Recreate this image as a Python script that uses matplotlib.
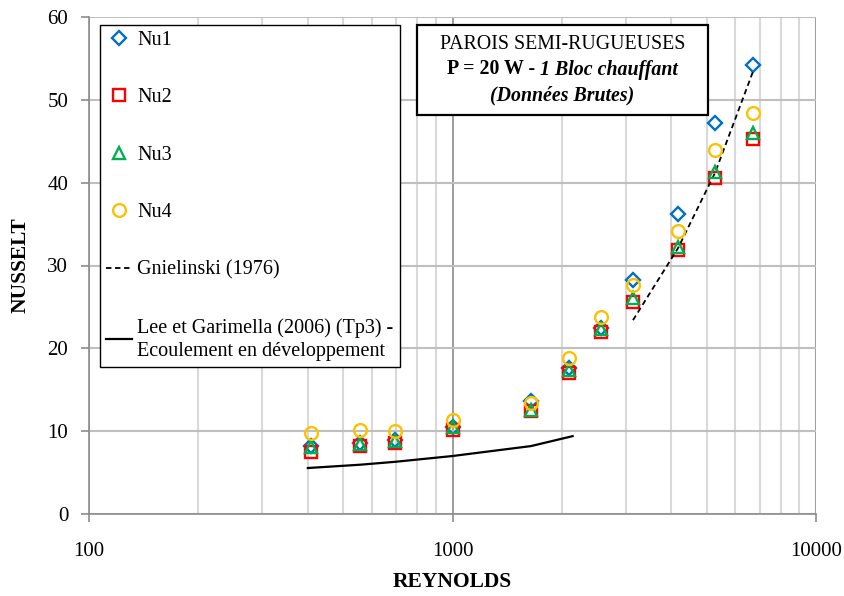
import matplotlib
matplotlib.use("Agg")
import matplotlib.pyplot as plt
from matplotlib.ticker import LogLocator, NullFormatter, FixedLocator
from matplotlib.patches import Rectangle
from matplotlib.offsetbox import TextArea, HPacker, VPacker, AnchoredOffsetbox

plt.rcParams['font.family'] = ['Liberation Serif', 'DejaVu Serif']

# Reynolds numbers of the measurement points
reynolds = [408, 557, 695, 1000, 1644, 2092, 2563, 3137, 4173, 5277, 6708]

# Nusselt numbers for the four measurement stations
nu1 = [8.2, 8.6, 8.9, 10.5, 13.6, 17.6, 22.5, 28.3, 36.2, 47.2, 54.2]
nu2 = [7.5, 8.2, 8.6, 10.2, 12.4, 17.0, 22.0, 25.6, 31.9, 40.6, 45.3]
nu3 = [8.1, 8.5, 8.85, 10.5, 12.6, 17.4, 22.3, 26.1, 32.2, 41.3, 46.0]
nu4 = [9.8, 10.1, 10.0, 11.4, 13.4, 18.8, 23.8, 27.7, 34.2, 44.0, 48.4]

# Gnielinski (1976) correlation, turbulent range
re_gni = [3137, 4173, 5277, 6708]
nu_gni = [23.4, 32.1, 41.2, 53.4]

# Lee & Garimella (2006), developing laminar flow
re_lee = [400, 557, 695, 1000, 1644, 2140]
nu_lee = [5.55, 5.95, 6.3, 7.0, 8.2, 9.4]

fig = plt.figure(figsize=(8.44, 5.96), dpi=100)
ax = fig.add_axes([89 / 844, 1 - 514 / 596, 727 / 844, 497 / 596])

ax.set_xscale('log')
ax.set_xlim(100, 10000)
ax.set_ylim(0, 60)

# grid
ax.xaxis.set_major_locator(FixedLocator([100, 1000, 10000]))
ax.xaxis.set_minor_locator(LogLocator(base=10, subs=range(2, 10)))
ax.xaxis.set_minor_formatter(NullFormatter())
ax.set_xticks([100, 1000, 10000])
ax.set_xticklabels(['100', '1000', '10000'])
ax.set_yticks(range(0, 61, 10))
ax.grid(True, which='minor', axis='x', color='#d9d9d9', lw=1.5, zorder=0)
ax.grid(True, which='major', axis='x', color='#8c8c8c', lw=1.2, zorder=0)
ax.grid(True, which='major', axis='y', color='#bfbfbf', lw=1.5, zorder=0)
ax.set_axisbelow(True)

for s in ('top', 'right'):
    ax.spines[s].set_visible(False)
for s in ('left', 'bottom'):
    ax.spines[s].set_color('#8c8c8c')
    ax.spines[s].set_linewidth(1.2)

ax.tick_params(axis='x', which='major', direction='out', length=6, width=1.2,
               color='#8c8c8c', pad=14, labelsize=15)
ax.tick_params(axis='x', which='minor', length=0)
ax.tick_params(axis='y', which='major', direction='out', length=6, width=1.2,
               color='#8c8c8c', pad=9, labelsize=15)

ms = 8
mew = 1.7
ax.plot(reynolds, nu1, ls='none', marker='D', ms=ms * 0.85, mfc='none', mec='#0070C0',
        mew=mew, label='Nu1', zorder=3)
ax.plot(reynolds, nu2, ls='none', marker='s', ms=ms, mfc='none', mec='#FF0000',
        mew=mew, label='Nu2', zorder=3)
ax.plot(reynolds, nu3, ls='none', marker='^', ms=ms, mfc='none', mec='#00B050',
        mew=mew, label='Nu3', zorder=4)
ax.plot(reynolds, nu4, ls='none', marker='o', ms=ms * 1.15, mfc='none', mec='#FFC000',
        mew=mew, label='Nu4', zorder=5)
ax.plot(re_gni, nu_gni, color='black', ls=(0, (3, 2)), lw=1.3,
        label='Gnielinski (1976)', zorder=3)
ax.plot(re_lee, nu_lee, color='black', ls='-', lw=1.6,
        label='Lee et Garimella (2006) (Tp3) -\nEcoulement en développement', zorder=3)

leg = ax.legend(loc='upper left', bbox_to_anchor=((100 - 89) / 727, (514 - 25) / 497),
                borderaxespad=0, fontsize=14.5, frameon=True, fancybox=False,
                edgecolor='black', framealpha=1, labelspacing=1.9, handlelength=1.3,
                handletextpad=0.25, borderpad=0.3)
leg.get_frame().set_linewidth(1.0)
for t in leg.get_texts():
    t.set_linespacing(1.3)

ax.set_xlabel('REYNOLDS', fontsize=15.5, fontweight='bold', labelpad=8)
ax.set_ylabel('NUSSELT', fontsize=15.5, fontweight='bold', labelpad=12)

# title box
bx0 = (417 - 89) / 727
by1 = (514 - 25) / 497
bw = 291 / 727
bh = 90 / 497
ax.add_patch(Rectangle((bx0, by1 - bh), bw, bh, transform=ax.transAxes,
                       facecolor='white', edgecolor='black', lw=1.6, zorder=6))

fs = 14.3
line1 = TextArea('PAROIS SEMI-RUGUEUSES', textprops=dict(fontsize=fs))
line2 = HPacker(children=[
    TextArea('P = 20 W - ', textprops=dict(fontsize=fs, fontweight='bold')),
    TextArea('1 Bloc chauffant', textprops=dict(fontsize=fs, fontweight='bold', fontstyle='italic')),
], align='baseline', pad=0, sep=0)
line3 = TextArea('(Données Brutes)', textprops=dict(fontsize=fs, fontweight='bold', fontstyle='italic'))
stack = VPacker(children=[line1, line2, line3], align='center', pad=0, sep=4)
title_box = AnchoredOffsetbox(loc='center', child=stack, frameon=False, pad=0, borderpad=0,
                              bbox_to_anchor=(bx0 + bw / 2, by1 - bh / 2),
                              bbox_transform=ax.transAxes)
title_box.set_zorder(7)
ax.add_artist(title_box)

fig.savefig('out.png', dpi=100)
